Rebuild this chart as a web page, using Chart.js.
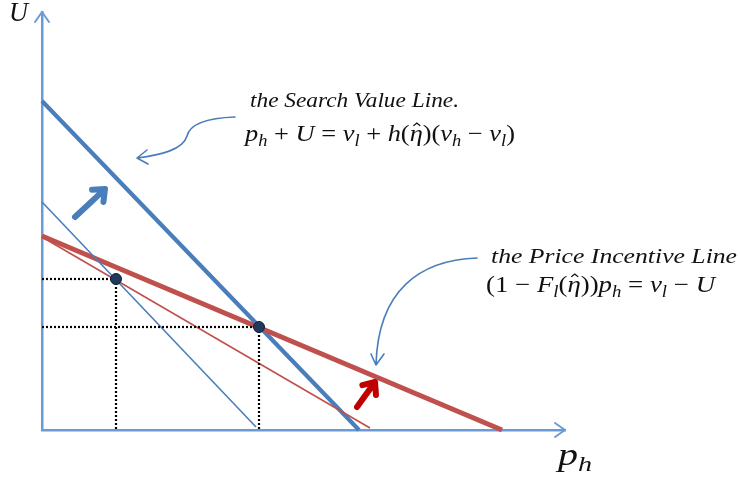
<!DOCTYPE html>
<html>
<head>
<meta charset="utf-8">
<script src="https://cdn.jsdelivr.net/npm/chart.js@4/dist/chart.umd.min.js"></script>
<style>
  body { margin: 0; background: #fff; }
  canvas { display: block; }
</style>
</head>
<body>
<canvas id="chart" width="740" height="479"></canvas>
<script>
// axis ranges (arbitrary units, no ticks shown)
const xMax = 523;
const yMax = 418;

// the lines, as [p_h, U] end points
const newSearchLine = [[0, 329], [317, 0]];
const oldSearchLine = [[0, 228], [214, 3]];
const newPriceLine = [[0, 194], [460, 0]];
const oldPriceLine = [[0, 193], [328, 2]];
// intersections: old one, new one
const equilibria = [[74, 151], [217, 103]];

const blue = '#4a7ebb';
const red = '#c0504d';
const axisColor = '#6b9bd6';
const serif = '"Liberation Serif", "DejaVu Serif", serif';

function pts(arr) {
  return arr.map(p => ({ x: p[0], y: p[1] }));
}

function lineSet(arr, color, width, dash) {
  return {
    data: pts(arr),
    showLine: true,
    borderColor: color,
    borderWidth: width,
    borderDash: dash || [],
    pointRadius: 0,
    clip: false
  };
}

// dotted guides from each intersection to the axes
const guides = [];
equilibria.forEach(e => {
  guides.push(lineSet([[0, e[1]], e], '#000', 2.2, [2, 2]));
  guides.push(lineSet([e, [e[0], 0]], '#000', 2.2, [2, 2]));
});

// layout of the annotations, in axis units
const layout = {
  blueArrow: [[33, 213], [63, 241]],
  redArrow: [[315, 23], [333, 48]],
  curve1: [[193, 313], [163, 312], [148, 306], [145, 294], [141, 280], [118, 275], [95, 272]],
  curve1Wings: [[105, 280], [106, 266]],
  curve2: [[435, 172], [378, 170], [336, 140], [334, 65]],
  curve2Wings: [[329, 76], [342, 76]]
};

function drawRich(ctx, parts, x, y, size, width) {
  function fontFor(kind) {
    const s = kind.indexOf('s') >= 0 ? size * 0.7 : size;
    const it = kind.indexOf('i') >= 0 ? 'italic ' : '';
    return it + s + 'px ' + serif;
  }
  let total = 0;
  parts.forEach(p => { ctx.font = fontFor(p[1]); total += ctx.measureText(p[0]).width; });
  const k = width ? width / total : 1;
  ctx.save();
  ctx.translate(x, y);
  ctx.scale(k, 1);
  ctx.fillStyle = '#111';
  ctx.textBaseline = 'alphabetic';
  let cx = 0;
  parts.forEach(p => {
    ctx.font = fontFor(p[1]);
    const w = ctx.measureText(p[0]).width;
    const dy = p[1].indexOf('s') >= 0 ? size * 0.2 : 0;
    ctx.fillText(p[0], cx, dy);
    if (p[1].indexOf('h') >= 0) {
      const mx = cx + w * 0.55;
      const top = -size * 0.78;
      ctx.beginPath();
      ctx.moveTo(mx - size * 0.13, top + size * 0.12);
      ctx.lineTo(mx, top);
      ctx.lineTo(mx + size * 0.13, top + size * 0.12);
      ctx.lineWidth = 1.2;
      ctx.strokeStyle = '#111';
      ctx.stroke();
    }
    cx += w;
  });
  ctx.restore();
}

const decorations = {
  id: 'decorations',
  afterDraw(chart) {
    const ctx = chart.ctx;
    const xs = chart.scales.x, ys = chart.scales.y;
    const P = p => [xs.getPixelForValue(p[0]), ys.getPixelForValue(p[1])];
    ctx.save();
    ctx.lineCap = 'round';
    ctx.lineJoin = 'round';

    // axis arrow heads
    const x0 = xs.left, y0 = ys.bottom;
    ctx.strokeStyle = axisColor;
    ctx.lineWidth = 2;
    ctx.beginPath();
    ctx.moveTo(x0 - 7, ys.top + 10); ctx.lineTo(x0, ys.top); ctx.lineTo(x0 + 7, ys.top + 10);
    ctx.moveTo(xs.right - 10, y0 - 7); ctx.lineTo(xs.right, y0); ctx.lineTo(xs.right - 10, y0 + 7);
    ctx.stroke();

    // thick shift arrows
    function bigArrow(a, color) {
      const t = P(a[0]), h = P(a[1]);
      const ang = Math.atan2(h[1] - t[1], h[0] - t[0]);
      ctx.strokeStyle = color;
      ctx.lineWidth = 6;
      ctx.beginPath();
      ctx.moveTo(t[0], t[1]); ctx.lineTo(h[0] - Math.cos(ang) * 2, h[1] - Math.sin(ang) * 2);
      const L = 13;
      ctx.moveTo(h[0] - L * Math.cos(ang - 0.7), h[1] - L * Math.sin(ang - 0.7));
      ctx.lineTo(h[0], h[1]);
      ctx.lineTo(h[0] - L * Math.cos(ang + 0.7), h[1] - L * Math.sin(ang + 0.7));
      ctx.stroke();
    }
    bigArrow(layout.blueArrow, blue);
    bigArrow(layout.redArrow, '#c00000');

    // curved pointers from the labels
    ctx.strokeStyle = blue;
    ctx.lineWidth = 1.6;
    const c1 = layout.curve1.map(P);
    ctx.beginPath();
    ctx.moveTo(c1[0][0], c1[0][1]);
    ctx.bezierCurveTo(c1[1][0], c1[1][1], c1[2][0], c1[2][1], c1[3][0], c1[3][1]);
    ctx.bezierCurveTo(c1[4][0], c1[4][1], c1[5][0], c1[5][1], c1[6][0], c1[6][1]);
    const w1 = layout.curve1Wings.map(P);
    ctx.moveTo(w1[0][0], w1[0][1]); ctx.lineTo(c1[6][0], c1[6][1]); ctx.lineTo(w1[1][0], w1[1][1]);
    ctx.stroke();

    const c2 = layout.curve2.map(P);
    ctx.beginPath();
    ctx.moveTo(c2[0][0], c2[0][1]);
    ctx.bezierCurveTo(c2[1][0], c2[1][1], c2[2][0], c2[2][1], c2[3][0], c2[3][1]);
    const w2 = layout.curve2Wings.map(P);
    ctx.moveTo(w2[0][0], w2[0][1]); ctx.lineTo(c2[3][0], c2[3][1]); ctx.lineTo(w2[1][0], w2[1][1]);
    ctx.stroke();
    ctx.restore();

    // equilibrium dots on top
    ctx.save();
    equilibria.map(P).forEach(p => {
      ctx.beginPath();
      ctx.arc(p[0], p[1], 5.5, 0, Math.PI * 2);
      ctx.fillStyle = '#1f3a5c';
      ctx.fill();
      ctx.lineWidth = 1;
      ctx.strokeStyle = '#0e1d30';
      ctx.stroke();
    });
    ctx.restore();

    // texts
    drawRich(ctx, [['U', 'i']], 9, 21, 27, 19);
    drawRich(ctx, [['p', 'i'], ['h', 'is']], 558, 465, 31, 34);
    drawRich(ctx, [['the Search Value Line.', 'i']], 250, 107, 21, 209);
    drawRich(ctx, [
      ['p', 'i'], ['h', 'is'], [' + ', 'r'], ['U', 'i'], [' = ', 'r'], ['v', 'i'], ['l', 'is'],
      [' + ', 'r'], ['h', 'i'], ['(', 'r'], ['η', 'ih'], [')(', 'r'], ['v', 'i'], ['h', 'is'],
      [' − ', 'r'], ['v', 'i'], ['l', 'is'], [')', 'r']
    ], 245, 141, 23, 270);
    drawRich(ctx, [['the Price Incentive Line', 'i']], 491, 263, 21, 246);
    drawRich(ctx, [
      ['(1 − ', 'r'], ['F', 'i'], ['l', 'is'], ['(', 'r'], ['η', 'ih'], ['))', 'r'], ['p', 'i'],
      ['h', 'is'], [' = ', 'r'], ['v', 'i'], ['l', 'is'], [' − ', 'r'], ['U', 'i']
    ], 486, 292, 23, 229);
  }
};

new Chart(document.getElementById('chart'), {
  type: 'scatter',
  data: {
    datasets: [
      ...guides,
      lineSet(oldSearchLine, blue, 1.6),
      lineSet(oldPriceLine, red, 1.6),
      lineSet(newPriceLine, red, 5),
      lineSet(newSearchLine, blue, 4.2),
      {
        data: pts(equilibria),
        pointRadius: 0,
        showLine: false,
        clip: false
      }
    ]
  },
  options: {
    responsive: false,
    animation: false,
    devicePixelRatio: 1,
    layout: { padding: { left: 42, right: 175, top: 12, bottom: 49 } },
    plugins: { legend: { display: false }, tooltip: { enabled: false } },
    scales: {
      x: {
        type: 'linear', min: 0, max: xMax,
        grid: { display: false },
        ticks: { display: false },
        border: { display: true, color: axisColor, width: 2.5 },
        afterFit(s) { s.height = 0; }
      },
      y: {
        type: 'linear', min: 0, max: yMax,
        grid: { display: false },
        ticks: { display: false },
        border: { display: true, color: axisColor, width: 2.5 },
        afterFit(s) { s.width = 0; }
      }
    }
  },
  plugins: [decorations]
});
</script>
</body>
</html>
